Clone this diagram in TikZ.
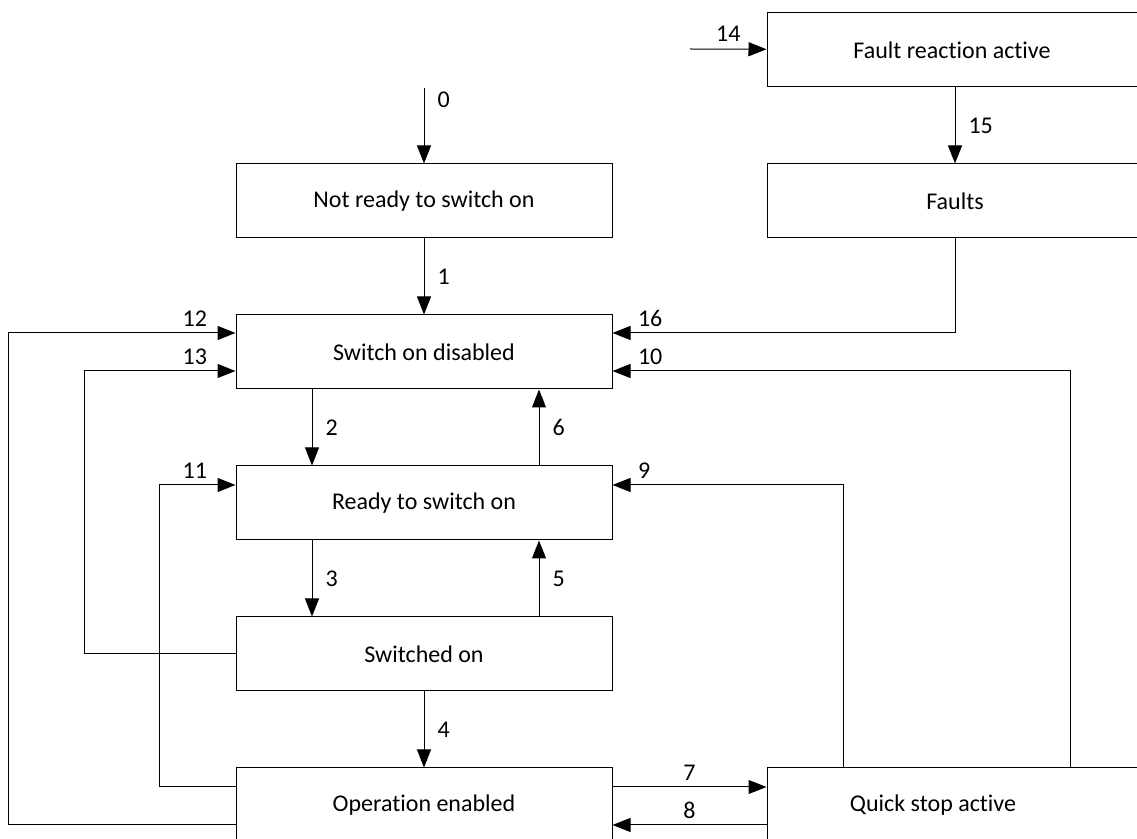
\documentclass[tikz,border=0pt]{standalone}
\usepackage{fontspec}
\setmainfont{Carlito}[Ligatures=NoCommon]
\usepackage{tikz}
\usetikzlibrary{arrows.meta, positioning}

\begin{document}
\begin{tikzpicture}[
  x=0.5pt, y=-0.5pt,
  node distance=38pt,
  statebox/.style={rectangle, draw, line width=0.5pt, minimum width=188pt, minimum height=37pt, font=\fontsize{12}{14}\selectfont},
  num/.style={inner sep=2pt, font=\fontsize{12}{14}\selectfont},
  arrow/.style={-{Triangle[length=9pt, width=7pt]}, line width=0.5pt}
]
\useasboundingbox (0,0) rectangle (1137,839);

\node[statebox] (notready) at (424,201) {Not ready to switch on};
\node[statebox, below=of notready] (disabled) {Switch on disabled};
\node[statebox, below=of disabled] (ready) {Ready to switch on};
\node[statebox, below=of ready] (switchedon) {Switched on};
\node[statebox, below=of switchedon] (openabled) {Operation enabled};
\node[statebox, right=77pt of notready] (faults) {Faults};
\node[statebox, minimum width=185pt, above=of faults.north west, anchor=south west] (faultreact) {Fault reaction active};
\node[statebox, right=77pt of openabled] (quickstop) {\hspace*{-22pt}Quick stop active};

\coordinate (start0) at (424,88);
\coordinate (start14) at (690,49);

\draw[arrow] (start0) -- node[num, pos=0.15, right=4.5pt] {0} (notready);
\draw[arrow] (notready) -- node[num, right=4.5pt] {1} (disabled);
\draw[arrow] ([xshift=-56pt]disabled.south) -- node[num, right=4.5pt] {2} ([xshift=-56pt]ready.north);
\draw[arrow] ([xshift=-56pt]ready.south) -- node[num, right=4.5pt] {3} ([xshift=-56pt]switchedon.north);
\draw[arrow] (switchedon) -- node[num, right=4.5pt] {4} (openabled);
\draw[arrow] ([xshift=57.5pt]switchedon.north) -- node[num, right=4.5pt] {5} ([xshift=57.5pt]ready.south);
\draw[arrow] ([xshift=57.5pt]ready.north) -- node[num, right=4.5pt] {6} ([xshift=57.5pt]disabled.south);
\draw[arrow] ([yshift=9pt]openabled.east) -- node[num, above=1pt] {7} ([yshift=9pt]quickstop.west);
\draw[arrow] ([yshift=-10pt]quickstop.west) -- node[num, above=1pt] {8} ([yshift=-10pt]openabled.east);
\draw[arrow] ([xshift=-56pt]quickstop.north) |- ([yshift=9pt]ready.east) node[num, above right=1pt and 10.5pt] {9};
\draw[arrow] ([xshift=57.5pt]quickstop.north) |- ([yshift=-9.5pt]disabled.east) node[num, above right=1pt and 10.5pt] {10};
\draw[arrow] ([yshift=9pt]openabled.west) -- ++(-38pt,0) |- ([yshift=9pt]ready.west) node[num, above left=1pt and 12pt] {11};
\draw[arrow] ([yshift=-10pt]openabled.west) -- ++(-113.5pt,0) |- ([yshift=9.5pt]disabled.west) node[num, above left=1pt and 12pt] {12};
\draw[arrow] (switchedon.west) -- ++(-75.5pt,0) |- ([yshift=-9.5pt]disabled.west) node[num, above left=1pt and 12pt] {13};
\draw[arrow] (start14) -- node[num, above=1.5pt] {14} (faultreact);
\draw[arrow] (faultreact.south -| faults.north) -- node[num, right=4.5pt] {15} (faults.north);
\draw[arrow] (faults.south) |- ([yshift=9.5pt]disabled.east) node[num, above right=1pt and 10.5pt] {16};
\end{tikzpicture}
\end{document}
